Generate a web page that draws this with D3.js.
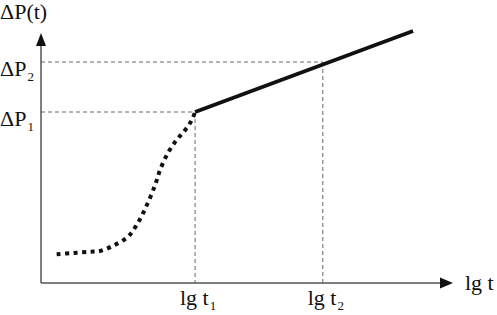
<!DOCTYPE html>
<html>
<head>
<meta charset="utf-8">
<script src="https://cdn.jsdelivr.net/npm/d3@7"></script>
<style>
  body { margin: 0; background: #fff; }
</style>
</head>
<body>
<div id="chart"></div>
<script>
// transition curve (dotted), lg t vs dP
var curveX = [0.38, 0.78, 1.19, 1.43, 1.75, 2.11, 2.35, 2.57, 2.77, 2.89, 3.08, 3.29, 3.50, 3.66, 3.74];
var curveY = [1.15, 1.20, 1.25, 1.28, 1.49, 1.85, 2.40, 3.12, 3.92, 4.52, 5.20, 5.72, 6.12, 6.52, 6.84];
// straight line (solid)
var lineX = [3.74, 9.03];
var lineY = [6.84, 10.08];
// marked points
var markX = [3.74, 6.84];
var markY = [6.84, 8.84];
var xLabels = ["1", "2"];
var yLabels = ["1", "2"];

var width = 497, height = 315;
var serif = "'Liberation Serif', 'DejaVu Serif', serif";

var svg = d3.select("#chart")
    .append("svg")
    .attr("width", width)
    .attr("height", height);

//scales: axis origin at bottom-left
var x = d3.scaleLinear().domain([0, 10]).range([41, 453]);
var y = d3.scaleLinear().domain([0, 10]).range([283, 33]);

//dashed guide lines
markX.forEach(function (mx, i) {
    svg.append("line")
        .attr("x1", x(0)).attr("x2", x(mx))
        .attr("y1", y(markY[i])).attr("y2", y(markY[i]))
        .attr("stroke", "#666").attr("stroke-width", 1)
        .attr("stroke-dasharray", "4,3");
    svg.append("line")
        .attr("x1", x(mx)).attr("x2", x(mx))
        .attr("y1", y(markY[i])).attr("y2", y(0))
        .attr("stroke", "#666").attr("stroke-width", 1)
        .attr("stroke-dasharray", "4,3");
});

//axes
svg.append("line")
    .attr("x1", x(0)).attr("y1", y(0))
    .attr("x2", x(10) - 8).attr("y2", y(0))
    .attr("stroke", "#555").attr("stroke-width", 1.5);
svg.append("line")
    .attr("x1", x(0)).attr("y1", y(0))
    .attr("x2", x(0)).attr("y2", y(10) + 8)
    .attr("stroke", "#555").attr("stroke-width", 1.5);

//arrow heads
svg.append("path")
    .attr("d", "M" + x(10) + "," + y(0) + "l-13,-5.5l0,11z")
    .attr("fill", "#111");
svg.append("path")
    .attr("d", "M" + x(0) + "," + y(10) + "l-5,13l10,0z")
    .attr("fill", "#111");

//dotted curve
var pts = curveX.map(function (d, i) { return [d, curveY[i]]; });
svg.append("path")
    .datum(pts)
    .attr("d", d3.line()
        .x(function (d) { return x(d[0]); })
        .y(function (d) { return y(d[1]); })
        .curve(d3.curveCatmullRom))
    .attr("fill", "none")
    .attr("stroke", "#111")
    .attr("stroke-width", 4)
    .attr("stroke-dasharray", "4,4.5");

//solid line
svg.append("line")
    .attr("x1", x(lineX[0])).attr("y1", y(lineY[0]))
    .attr("x2", x(lineX[1])).attr("y2", y(lineY[1]))
    .attr("stroke", "#111").attr("stroke-width", 4);

//labels
function subLabel(tx, ty, main, sub, anchorMid) {
    var t = svg.append("text")
        .attr("x", tx).attr("y", ty)
        .style("font-family", serif)
        .attr("fill", "#111")
        .attr("font-size", "22px");
    t.append("tspan").text(main);
    t.append("tspan").attr("font-size", "13px").attr("dy", 5).attr("dx", 1).text(sub);
    if (anchorMid) t.attr("text-anchor", "middle");
    return t;
}

svg.append("text")
    .attr("x", 0).attr("y", 19)
    .style("font-family", serif)
    .attr("fill", "#111")
    .attr("font-size", "22px")
    .text("ΔP(t)");

yLabels.forEach(function (s, i) {
    subLabel(0, y(markY[i]) + 14, "ΔP", s, false);
});
xLabels.forEach(function (s, i) {
    subLabel(x(markX[i]) + 3, 305, "lg t", s, true);
});

svg.append("text")
    .attr("x", 465).attr("y", 290)
    .style("font-family", serif)
    .attr("fill", "#111")
    .attr("font-size", "22px")
    .text("lg t");
</script>
</body>
</html>
